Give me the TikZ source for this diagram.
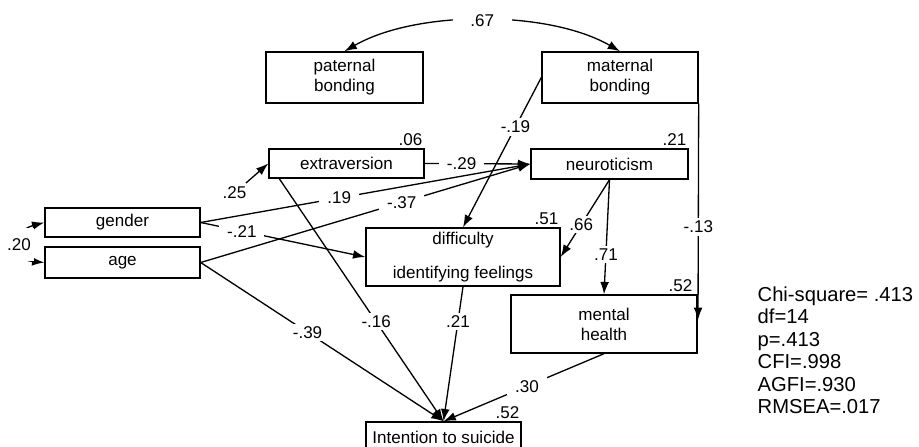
\documentclass[tikz,border=0pt]{standalone}
\usepackage{fontspec}
\setmainfont{Liberation Sans}
\usetikzlibrary{arrows.meta}

\begin{document}
\begin{tikzpicture}[x=0.02cm, y=0.02cm, line width=0.75pt, >={Latex[length=7pt, width=5pt]},
        box/.style={draw, line width=0.8pt, minimum width=3.1cm, minimum height=0.6cm, align=center, inner sep=1pt, font=\fontsize{9.7}{11.4}\selectfont},
        lbl/.style={fill=white, inner xsep=4.5pt, inner ysep=1.5pt, font=\fontsize{9.7}{11.4}\selectfont},
        rsq/.style={anchor=south east, inner sep=1pt, font=\fontsize{9.7}{11.4}\selectfont}]
        \useasboundingbox (0, 0) rectangle (919, 446);

        \node[box, minimum width=3.14cm, minimum height=1.02cm] (pat) at (344.5, 368.5) {paternal\\bonding};
        \node[box, minimum width=3.12cm, minimum height=1.02cm] (mat) at (620, 368.5) {maternal\\bonding};
        \node[box, minimum height=0.58cm] (ext) at (346.5, 282.5) {extraversion};
        \node[box, minimum width=3.14cm] (neu) at (609.5, 282) {neuroticism};
        \node[box, minimum height=0.58cm] (gen) at (122.5, 223.5) {gender};
        \node[box, minimum height=0.62cm] (age) at (122.5, 183.5) {age};
        \node[box, minimum width=3.88cm, minimum height=1.16cm] (diff) at (463, 189) {difficulty\\[8pt]identifying feelings};
        \node[box, minimum width=3.72cm, minimum height=1.16cm] (mh) at (604, 122) {mental\\health};
        \node[box] (int) at (443.5, 9) {Intention to suicide};
        \coordinate (m13) at (698, 126);

        \node[rsq] (r2ext) at (ext.north east) {.06};
        \node[rsq] (r2neu) at (neu.north east) {.21};
        \node[rsq] (r2diff) at (diff.north east) {.51};
        \node[rsq] (r2mh) at ([xshift=-0.06cm]mh.north east) {.52};
        \node[rsq] (r2int) at (int.north east) {.52};

        \node[anchor=north west, align=left, inner sep=0pt, font=\fontsize{11.5}{12.8}\selectfont] (fit) at (757, 160)
            {Chi-square= .413\\df=14\\p=.413\\CFI=.998\\AGFI=.930\\RMSEA=.017};

        \draw[<->] (pat.north) to[out=30, in=150, looseness=0.77] node[lbl, inner xsep=10pt] {.67} (mat.north);
        \draw[<->] (gen.west) to[out=195, in=175, looseness=2.2] node[lbl, inner xsep=2pt, inner ysep=6pt] {.20} (age.west);

        \draw[->, shorten <=1.2cm] (gen.east) to node[lbl, pos=0.5] {.25} (ext.west);
        \draw[->] (ext.east) to node[lbl, pos=0.35] {-.29} (neu.west);
        \draw[->] (gen.east) to node[lbl, pos=0.42] {.19} (neu.west);
        \draw[->] (age.east) to node[lbl, pos=0.61] {-.37} (neu.west);
        \draw[->] (gen.east) to node[lbl, pos=0.25] {-.21} (diff.west);
        \draw[->] (mat.west) to node[lbl, pos=0.33] {-.19} (diff.north);
        \draw[->] (neu.south) to node[lbl, pos=0.58] {.66} (diff.east);
        \draw[->] (neu.south) to node[lbl, pos=0.65] {.71} (mh.north);
        \draw[->] (mat.south east) to node[lbl, pos=0.57] {-.13} (m13);

        \draw[->] (age.east) to node[lbl, pos=0.44] {-.39} (int.north);
        \draw[->] ([xshift=0.22cm]ext.south west) to node[lbl, pos=0.59] {-.16} (int.north);
        \draw[->] (diff.south) to node[lbl, pos=0.26] {.21} (int.north);
        \draw[->] (mh.south) to node[lbl, pos=0.48] {.30} (int.north);
    \end{tikzpicture}
\end{document}
